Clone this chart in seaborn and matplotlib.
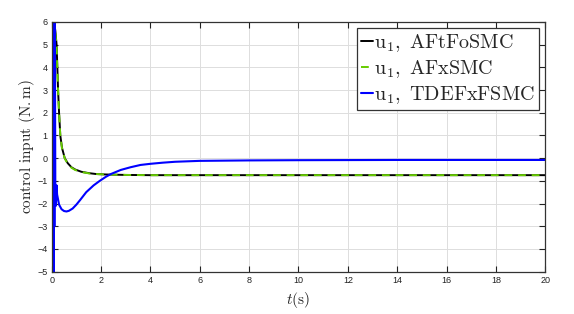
import numpy as np
import pandas as pd
import seaborn as sns
import matplotlib.pyplot as plt

# values
t_afto = [0.0, 0.1, 0.15, 0.2, 0.26, 0.3, 0.35, 0.42, 0.53, 0.65, 0.8, 0.95, 1.2, 1.5, 1.8, 2.2, 3.0, 4.0, 6.0, 10.0, 15.0, 20.0]
u_afto = [6.0, 6.0, 5.6, 5.0, 3.0, 2.0, 1.0, 0.45, 0.0, -0.22, -0.4, -0.5, -0.6, -0.66, -0.7, -0.72, -0.74, -0.75, -0.75, -0.75, -0.75, -0.75]

t_afx = [0.0, 0.1, 0.15, 0.2, 0.26, 0.3, 0.35, 0.42, 0.53, 0.65, 0.8, 0.95, 1.2, 1.5, 1.8, 2.2, 3.0, 4.0, 6.0, 10.0, 15.0, 20.0]
u_afx = [6.0, 6.0, 5.5, 4.9, 3.0, 2.0, 1.0, 0.42, -0.02, -0.24, -0.42, -0.52, -0.61, -0.67, -0.7, -0.72, -0.74, -0.75, -0.75, -0.75, -0.75, -0.75]

t_tde = [0.0, 0.01, 0.02, 0.04, 0.05, 0.07, 0.08, 0.1, 0.11, 0.13, 0.15, 0.17, 0.2, 0.22, 0.3, 0.4, 0.5, 0.6, 0.7, 0.85, 1.0, 1.15, 1.4, 1.7, 1.95, 2.2, 2.4, 2.8, 3.2, 3.6, 4.0, 4.5, 5.0, 6.0, 8.0, 10.0, 14.0, 20.0]
u_tde = [0.0, 6.0, -5.0, 6.0, -5.0, 6.0, -5.0, 6.0, -3.0, 6.0, -2.1, -2.1, -1.2, -1.6, -2.05, -2.25, -2.33, -2.35, -2.32, -2.22, -2.05, -1.85, -1.5, -1.2, -1.0, -0.82, -0.7, -0.52, -0.4, -0.3, -0.25, -0.2, -0.16, -0.12, -0.1, -0.09, -0.08, -0.08]

labels = [r'$\mathrm{u}_1\mathrm{,\ AFtFoSMC}$', r'$\mathrm{u}_1\mathrm{,\ AFxSMC}$', r'$\mathrm{u}_1\mathrm{,\ TDEFxFSMC}$']
x_ticks = list(range(0, 21, 2))
y_ticks = list(range(-5, 7))

sns.set_theme(style="white")
plt.rcParams['font.family'] = ['Liberation Sans', 'DejaVu Sans']
plt.rcParams['mathtext.fontset'] = 'cm'

fig, ax = plt.subplots(figsize=(5.74, 3.14), dpi=100)
fig.subplots_adjust(left=0.09, right=0.95, top=0.93, bottom=0.135)

sns.lineplot(x=t_afto, y=u_afto, ax=ax, color='black', lw=1.4, sort=False, label=labels[0])
sns.lineplot(x=t_afx, y=u_afx, ax=ax, color='#66cc00', lw=1.4, ls=(0, (4, 3)), sort=False, label=labels[1])
sns.lineplot(x=t_tde, y=u_tde, ax=ax, color='#0000ff', lw=1.5, sort=False, label=labels[2])

ax.set_xlim(0, 20)
ax.set_ylim(-5, 6)
ax.set_xticks(x_ticks)
ax.set_yticks(y_ticks)
ax.grid(True, color='#dddddd', lw=0.7)
for s in ax.spines.values():
    s.set_color('#333333')
    s.set_linewidth(0.9)
ax.tick_params(direction='in', length=4, width=0.8, colors='#222222', labelsize=6.5,
               top=True, right=True, bottom=True, left=True, pad=3)

ax.set_xlabel(r'$t\mathrm{(s)}$', fontsize=11, labelpad=4)
ax.set_ylabel(r'$\mathrm{control\ input\ (N.m)}$', fontsize=11, labelpad=0)

leg = ax.legend(loc='upper right', prop={'size': 14.5},
                frameon=True, fancybox=False, edgecolor='#333333', framealpha=1,
                handlelength=0.6, handletextpad=0.05, borderpad=0.2, labelspacing=0.2,
                borderaxespad=0.3)
leg.get_frame().set_linewidth(0.9)

fig.savefig('out.png', dpi=100)
